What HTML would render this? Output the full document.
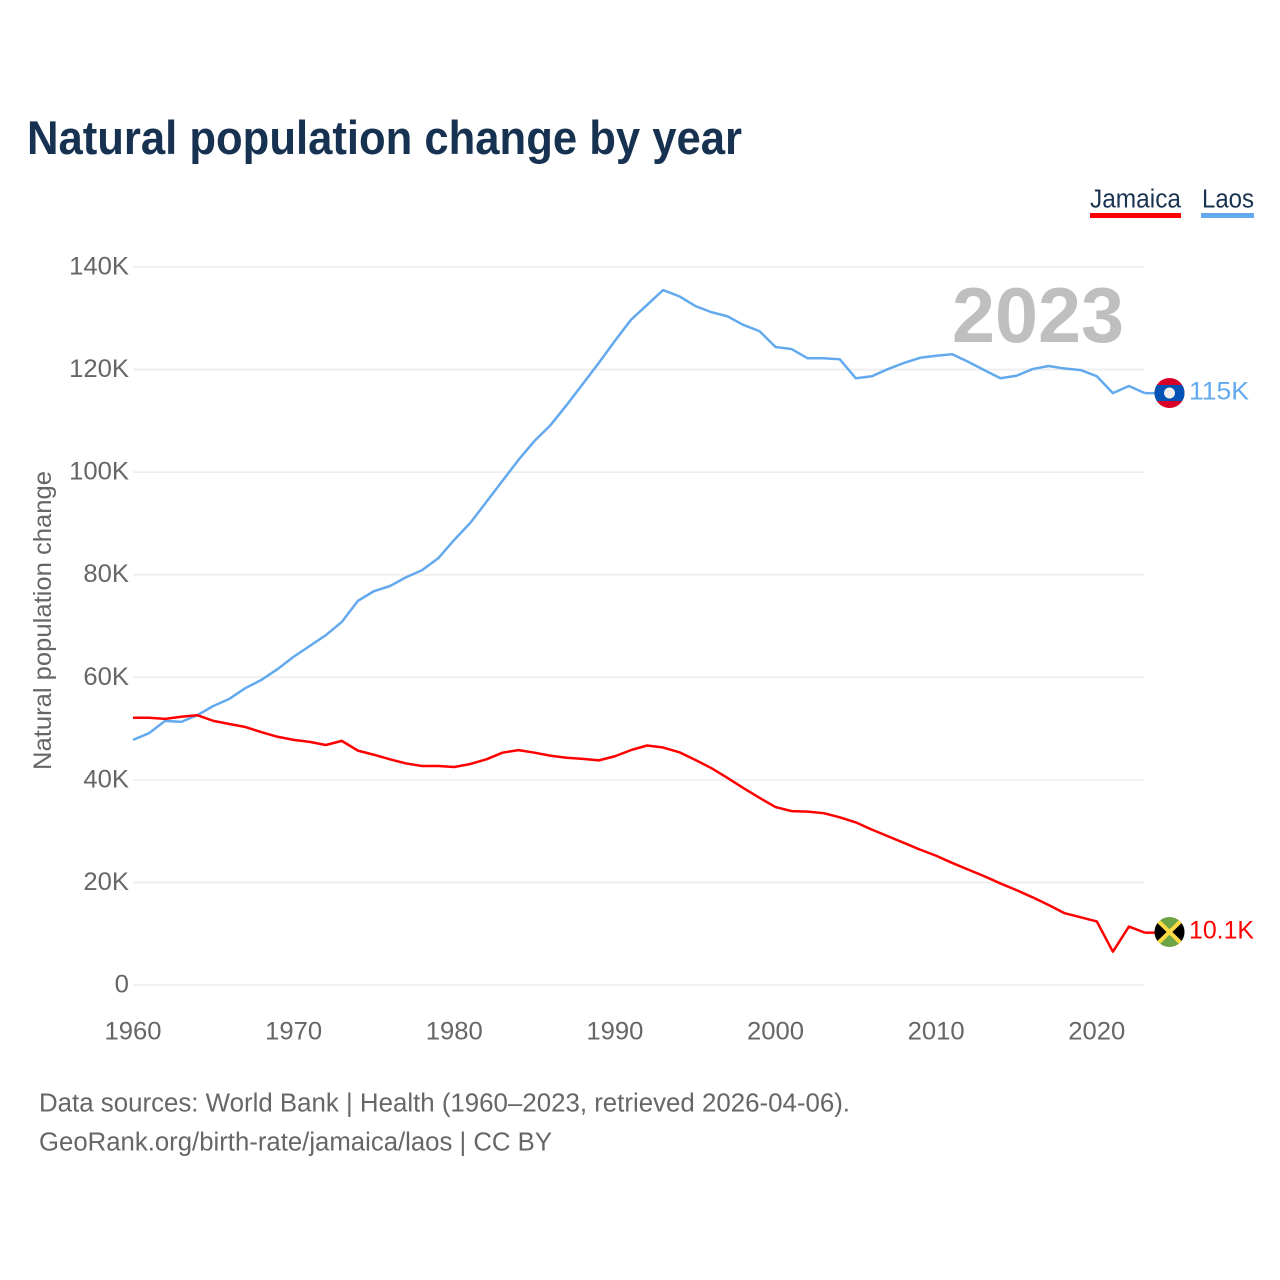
<!DOCTYPE html>
<html lang="en">
<head>
<meta charset="utf-8">
<title>Natural population change by year</title>
<style>
html,body{margin:0;padding:0;background:#fff;}
body{width:1280px;height:1280px;overflow:hidden;}
svg{display:block;font-family:"Liberation Sans",sans-serif;}
</style>
</head>
<body>
<svg id="chart" width="1280" height="1280" viewBox="0 0 1280 1280" xmlns="http://www.w3.org/2000/svg">
  <rect x="0" y="0" width="1280" height="1280" fill="#fff"/>
  <text x="27" y="154" font-size="47" font-weight="700" fill="#173251" textLength="715" lengthAdjust="spacingAndGlyphs">Natural population change by year</text>

  <g>
    <text x="1090" y="207.5" font-size="25.5" fill="#1a3350" textLength="91" lengthAdjust="spacingAndGlyphs">Jamaica</text>
    <rect x="1090" y="213" width="91" height="5" fill="#ff0000"/>
  </g>
  <g>
    <text x="1202" y="207.5" font-size="25.5" fill="#1a3350" textLength="52" lengthAdjust="spacingAndGlyphs">Laos</text>
    <rect x="1201" y="213" width="53" height="5" fill="#63a9ee"/>
  </g>

  <g id="grid"></g>
  <g id="yticks"></g>
  <g id="xticks"></g>
  <text transform="translate(51 620.5) rotate(-90)" text-anchor="middle" font-size="25" fill="#666" textLength="299" lengthAdjust="spacingAndGlyphs">Natural population change</text>
  <text x="1124" y="342" text-anchor="end" font-size="78" font-weight="700" fill="#bfbfbf" textLength="172" lengthAdjust="spacingAndGlyphs">2023</text>
  <g id="series"></g>

  <defs>
    <clipPath id="clip-laos"><circle cx="1169.5" cy="393" r="15"/></clipPath>
    <clipPath id="clip-jamaica"><circle cx="1169.5" cy="932" r="15"/></clipPath>
  </defs>
  <g clip-path="url(#clip-laos)">
    <rect x="1154" y="378" width="31" height="31" fill="#d80027"/>
    <rect x="1154" y="385" width="31" height="16" fill="#0052b4"/>
    <circle cx="1169.5" cy="393" r="5.5" fill="#eeeeee"/>
  </g>
  <g clip-path="url(#clip-jamaica)">
    <rect x="1154" y="917" width="31" height="31" fill="#6da544"/>
    <polygon points="1154,917 1169.5,932 1154,947" fill="#000"/>
    <polygon points="1185,917 1169.5,932 1185,947" fill="#000"/>
    <line x1="1154" y1="917" x2="1185" y2="947" stroke="#ffda44" stroke-width="4"/>
    <line x1="1185" y1="917" x2="1154" y2="947" stroke="#ffda44" stroke-width="4"/>
  </g>
  <text x="1189" y="399.5" font-size="25" fill="#63a9ee" textLength="60" lengthAdjust="spacingAndGlyphs">115K</text>
  <text x="1189" y="938.5" font-size="25" fill="#ff0000" textLength="65" lengthAdjust="spacingAndGlyphs">10.1K</text>

  <text x="39" y="1111.5" font-size="25.5" fill="#666" textLength="811" lengthAdjust="spacingAndGlyphs">Data sources: World Bank | Health (1960–2023, retrieved 2026-04-06).</text>
  <text x="39" y="1150.5" font-size="25.5" fill="#666" textLength="513" lengthAdjust="spacingAndGlyphs">GeoRank.org/birth-rate/jamaica/laos | CC BY</text>
</svg>
<script>
const startYear = 1960;
const xTickYears = [1960, 1970, 1980, 1990, 2000, 2010, 2020];
const yTickValues = [0, 20, 40, 60, 80, 100, 120, 140];
const yTickLabels = ['0', '20K', '40K', '60K', '80K', '100K', '120K', '140K'];
const laosValues = [
  47.8, 49.1, 51.5, 51.3, 52.6, 54.4, 55.8, 57.9, 59.5, 61.6,
  64.0, 66.1, 68.2, 70.8, 74.9, 76.8, 77.8, 79.5, 80.9, 83.2,
  86.8, 90.1, 94.2, 98.3, 102.4, 106.1, 109.2, 113.1, 117.2, 121.3,
  125.6, 129.7, 132.6, 135.5, 134.3, 132.4, 131.2, 130.4, 128.7, 127.5,
  124.4, 124.0, 122.2, 122.2, 122.0, 118.3, 118.7, 120.1, 121.3, 122.3,
  122.7, 123.0, 121.5, 119.9, 118.3, 118.8, 120.1, 120.7, 120.2, 119.9,
  118.7, 115.4, 116.8, 115.4
];
const jamaicaValues = [
  52.1, 52.1, 51.9, 52.3, 52.6, 51.5, 50.9, 50.3, 49.3, 48.4,
  47.8, 47.4, 46.8, 47.6, 45.7, 44.9, 44.0, 43.2, 42.7, 42.7,
  42.5, 43.1, 44.0, 45.3, 45.8, 45.3, 44.7, 44.3, 44.1, 43.8,
  44.6, 45.8, 46.7, 46.3, 45.4, 43.9, 42.3, 40.4, 38.4, 36.5,
  34.7, 33.9, 33.8, 33.5, 32.7, 31.7, 30.3, 29.0, 27.7, 26.4,
  25.2, 23.8, 22.5, 21.2, 19.8, 18.5, 17.1, 15.6, 14.0, 13.2,
  12.4, 6.5, 11.4, 10.2
];

const NS = 'http://www.w3.org/2000/svg';
const plotLeft = 133, plotRight = 1145, plotZero = 985, plotTop = 267;
function xScale(year) { return plotLeft + (year - 1960) * (plotRight - plotLeft) / 63; }
function yScale(v) { return plotZero - v * (plotZero - plotTop) / 140; }
function labelWidth(s) { return [...s].reduce(function (w, c) { return w + (c === 'K' ? 17 : 14.3); }, 0); }
function make(tag, attrs, parent) {
  const el = document.createElementNS(NS, tag);
  for (const k in attrs) el.setAttribute(k, attrs[k]);
  parent.appendChild(el);
  return el;
}

const grid = document.getElementById('grid');
const yticks = document.getElementById('yticks');
yTickValues.forEach(function (v, i) {
  const line = make('line', { x1: plotLeft, x2: plotRight - 1, y1: yScale(v), y2: yScale(v), stroke: '#eeeeee', 'stroke-width': 1.8 }, grid);
  
  
  const t = make('text', { x: 129, y: yScale(v) + 7.5, 'text-anchor': 'end', 'font-size': 25, fill: '#666', textLength: labelWidth(yTickLabels[i]), lengthAdjust: 'spacingAndGlyphs' }, yticks);
  
  
  t.textContent = yTickLabels[i];
});

const xticks = document.getElementById('xticks');
xTickYears.forEach(function (year) {
  const t = make('text', { x: xScale(year), y: 1039.5, 'text-anchor': 'middle', 'font-size': 25, fill: '#666', textLength: 57, lengthAdjust: 'spacingAndGlyphs' }, xticks);
  
  
  t.textContent = String(year);
});

function linePoints(values) {
  return values.map(function (v, i) { return xScale(startYear + i).toFixed(2) + ',' + yScale(v).toFixed(2); }).join(' ');
}
const series = document.getElementById('series');

const laosLine = make('polyline', { points: linePoints(laosValues), fill: 'none', stroke: '#63a9ee', 'stroke-width': 2.5, 'stroke-linejoin': 'round' }, series);


const laosLast = yScale(laosValues[laosValues.length - 1]);
const laosConnector = make('line', { x1: plotRight, x2: 1156, y1: laosLast, y2: laosLast, stroke: '#63a9ee', 'stroke-width': 2.5 }, series);



const jamaicaLine = make('polyline', { points: linePoints(jamaicaValues), fill: 'none', stroke: '#ff0000', 'stroke-width': 2.5, 'stroke-linejoin': 'round' }, series);


const jamaicaLast = yScale(jamaicaValues[jamaicaValues.length - 1]);
const jamaicaConnector = make('line', { x1: plotRight, x2: 1156, y1: jamaicaLast, y2: jamaicaLast, stroke: '#ff0000', 'stroke-width': 2.5 }, series);


</script>
</body>
</html>
